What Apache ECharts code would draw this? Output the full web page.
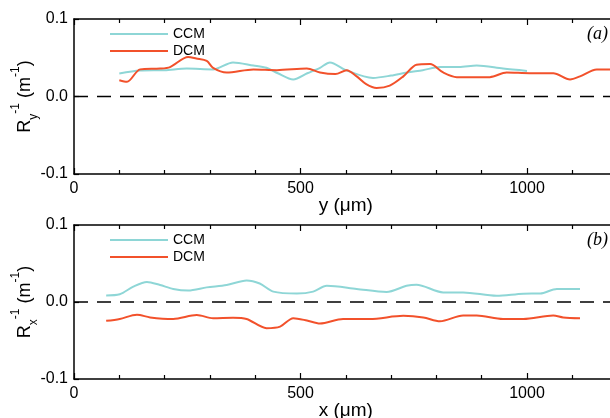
<!DOCTYPE html>
<html><head><meta charset="utf-8">
<script src="https://cdn.jsdelivr.net/npm/echarts@6/dist/echarts.min.js"></script>
<style>html,body{margin:0;padding:0;background:#fff}#c{width:610px;height:418px}</style>
</head><body><div id="c"></div>
<script>
// Panel (a): curvature along y
const ccmA_x = [100,146,200,249,307,351,396,425,450,484,515,543,565,600,660,700,735,770,808,850,889,947,1000];
const ccmA_y = [0.0297,0.0335,0.034,0.036,0.035,0.044,0.040,0.037,0.030,0.022,0.030,0.037,0.044,0.034,0.024,0.027,0.031,0.034,0.038,0.038,0.040,0.036,0.033];
const dcmA_x = [100,117,146,190,212,252,270,293,307,337,396,448,514,543,577,602,624,645,668,697,727,756,786,815,845,918,955,1006,1058,1095,1117,1154,1200];
const dcmA_y = [0.021,0.019,0.035,0.036,0.038,0.051,0.049,0.046,0.037,0.031,0.035,0.034,0.036,0.031,0.029,0.034,0.026,0.016,0.011,0.014,0.026,0.041,0.042,0.031,0.025,0.025,0.031,0.030,0.030,0.022,0.026,0.035,0.035];
// Panel (b): curvature along x
const ccmB_x = [71,101,131,161,190,219,252,293,337,381,410,440,492,528,558,624,690,734,756,815,859,933,992,1029,1066,1117];
const ccmB_y = [0.0085,0.010,0.020,0.026,0.022,0.017,0.015,0.019,0.022,0.028,0.024,0.0135,0.011,0.0135,0.021,0.017,0.013,0.021,0.0225,0.0125,0.0125,0.008,0.0108,0.011,0.017,0.017];
const dcmB_x = [71,101,139,168,219,271,307,351,381,425,455,484,514,543,594,653,727,771,808,859,889,947,992,1058,1080,1117];
const dcmB_y = [-0.0245,-0.022,-0.0165,-0.020,-0.022,-0.017,-0.021,-0.0205,-0.022,-0.034,-0.032,-0.021,-0.024,-0.028,-0.022,-0.022,-0.018,-0.020,-0.025,-0.0175,-0.0175,-0.022,-0.022,-0.0175,-0.020,-0.021];
const zeroLine_x = [0, 1200];
const zeroLine_y = [0, 0];
const seriesNames = ['CCM','DCM'];
const xTitles = ['y (\u03bcm)','x (\u03bcm)'];
const xTickLabels = {0: '0', 500: '500', 1000: '1000'};
const yTickMin = -0.1, yTickMax = 0.1, yStep = 0.1;
const xMin = 0, xMax = 1200, xStep = 500;

const zip = (xs, ys) => xs.map((x, i) => [x, ys[i]]);
const FONT = 'Liberation Sans';
const CCM_COLOR = '#8ed6d6', DCM_COLOR = '#f2512b';

const grids = [
  {left: 74, top: 19, width: 543.6, height: 155, outerBoundsMode: 'none', containLabel: false},
  {left: 74, top: 225, width: 543.6, height: 154, outerBoundsMode: 'none', containLabel: false}
];
function xAxes(gi, title) {
  const base = {gridIndex: gi, type: 'value', min: xMin, max: xMax, interval: xStep,
    splitLine: {show: false}, minorSplitLine: {show: false},
    axisLine: {onZero: false, lineStyle: {color: '#000', width: 1.5}},
    axisTick: {inside: true, length: 6, lineStyle: {color: '#000', width: 1.2}},
    minorTick: {show: true, splitNumber: 5, length: 4, lineStyle: {color: '#000', width: 1.2}}};
  return [
    Object.assign({}, base, {position: 'bottom',
      axisLabel: {color: '#000', fontFamily: FONT, fontSize: 16, margin: 7,
        formatter: v => (xTickLabels[v] !== undefined ? xTickLabels[v] : '')},
      name: title, nameLocation: 'middle', nameGap: 22, nameMoveOverlap: false,
      nameTextStyle: {color: '#000', fontFamily: FONT, fontSize: 19}}),
    Object.assign({}, base, {position: 'top', axisLabel: {show: false}})
  ];
}
function yAxis(gi, sub) {
  return {gridIndex: gi, type: 'value', min: yTickMin, max: yTickMax, interval: yStep,
    splitLine: {show: false},
    axisLine: {onZero: false, lineStyle: {color: '#000', width: 1.5}},
    axisTick: {inside: true, length: 5, lineStyle: {color: '#000', width: 1.2}},
    axisLabel: {color: '#000', fontFamily: FONT, fontSize: 16, margin: 6,
      formatter: v => v.toFixed(1)},
    name: 'R{sub|' + sub + '}{sup|-1} (m{sup|-1})', nameLocation: 'middle', nameGap: 40, nameRotate: 90,
    nameMoveOverlap: false,
    nameTextStyle: {color: '#000', fontFamily: FONT, fontSize: 18,
      rich: {sub: {fontFamily: FONT, fontSize: 12, color: '#000', verticalAlign: 'bottom', padding: [0,0,-6,0]},
             sup: {fontFamily: FONT, fontSize: 12, color: '#000', verticalAlign: 'top', padding: [-6,0,0,0]}}}};
}
function lineSeries(name, color, data, xi, yi) {
  return {name: name, type: 'line', xAxisIndex: xi, yAxisIndex: yi, data: data,
    symbol: 'none', smooth: 0.3, lineStyle: {color: color, width: 2}, itemStyle: {color: color}, z: 3};
}
function zeroSeries(xi, yi) {
  return {name: 'zero', type: 'line', xAxisIndex: xi, yAxisIndex: yi, data: zip(zeroLine_x, zeroLine_y),
    symbol: 'none', silent: true, z: 2,
    lineStyle: {color: '#000', type: [14, 9], width: 1.3}};
}
const legendCommon = {orient: 'vertical', left: 105, itemWidth: 58, itemHeight: 12, itemGap: 3,
  textStyle: {color: '#000', fontFamily: FONT, fontSize: 14}, icon: 'path://M0,0L58,0L58,2L0,2Z'};

const chart = echarts.init(document.getElementById('c'));
chart.setOption({
  animation: false,
  grid: grids,
  xAxis: [...xAxes(0, xTitles[0]), ...xAxes(1, xTitles[1])],
  yAxis: [yAxis(0, 'y'), yAxis(1, 'x')],
  legend: [
    Object.assign({}, legendCommon, {top: 22, data: [seriesNames[0], seriesNames[1]]}),
    Object.assign({}, legendCommon, {top: 228, data: [seriesNames[0], seriesNames[1]]})
  ],
  series: [
    zeroSeries(0, 0),
    lineSeries(seriesNames[0], CCM_COLOR, zip(ccmA_x, ccmA_y), 0, 0),
    lineSeries(seriesNames[1], DCM_COLOR, zip(dcmA_x, dcmA_y), 0, 0),
    zeroSeries(2, 1),
    lineSeries(seriesNames[0], CCM_COLOR, zip(ccmB_x, ccmB_y), 2, 1),
    lineSeries(seriesNames[1], DCM_COLOR, zip(dcmB_x, dcmB_y), 2, 1)
  ],
  graphic: [
    {type: 'text', left: 587, top: 25, style: {text: '(a)', font: 'italic 18px "Liberation Serif"', fill: '#000'}},
    {type: 'text', left: 587, top: 231, style: {text: '(b)', font: 'italic 18px "Liberation Serif"', fill: '#000'}}
  ]
});
</script></body></html>
